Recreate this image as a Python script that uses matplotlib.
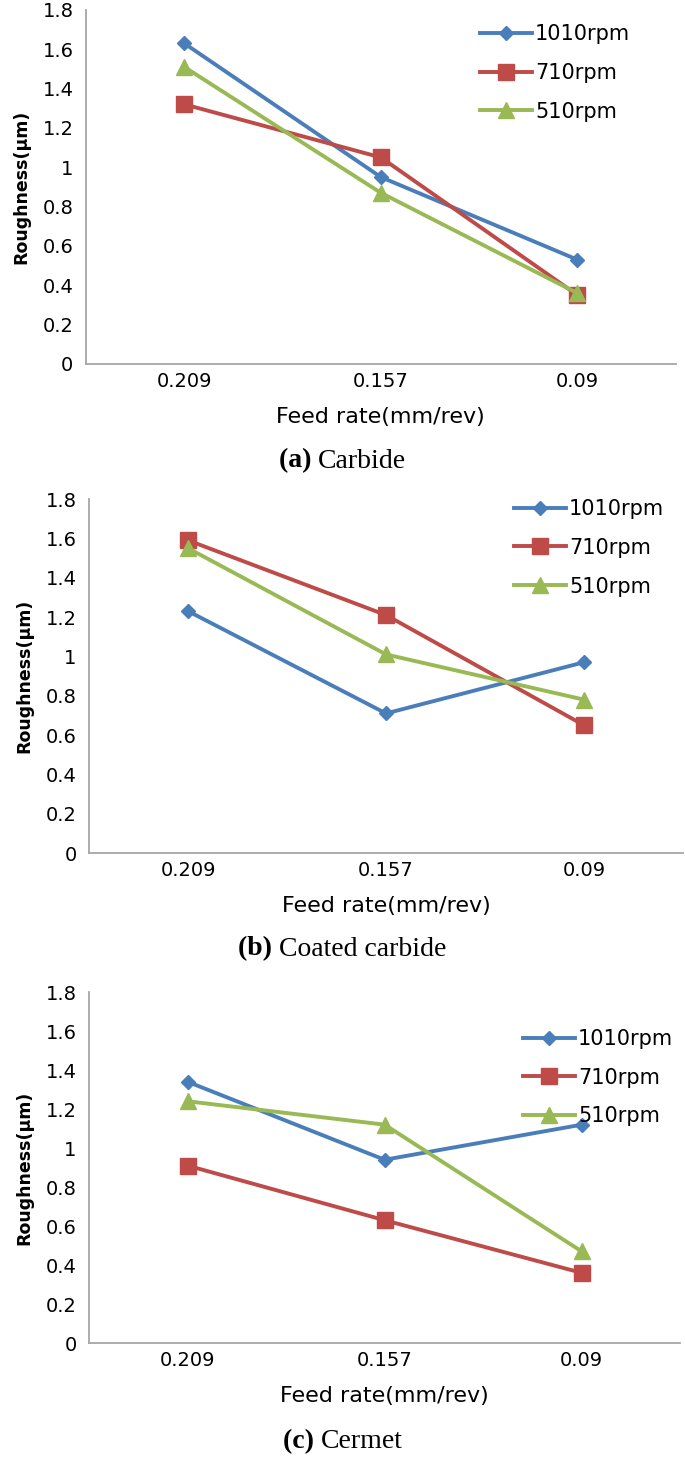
import numpy as np
import matplotlib.pyplot as plt

# feed rates (categories) and roughness values per tool / speed
feed = ['0.209', '0.157', '0.09']
speeds = ['1010rpm', '710rpm', '510rpm']

carbide_1010 = [1.63, 0.95, 0.53]
carbide_710 = [1.32, 1.05, 0.35]
carbide_510 = [1.51, 0.87, 0.36]

coated_1010 = [1.23, 0.71, 0.97]
coated_710 = [1.59, 1.21, 0.65]
coated_510 = [1.55, 1.01, 0.78]

cermet_1010 = [1.34, 0.94, 1.12]
cermet_710 = [0.91, 0.63, 0.36]
cermet_510 = [1.24, 1.12, 0.47]

colors = ['#4A7EBB', '#BE4B48', '#98B954']
markers = ['D', 's', '^']
msizes = [7.5, 11, 12]

plt.rcParams['font.family'] = ['DejaVu Sans']

fig = plt.figure(figsize=(6.85, 14.57), dpi=100)

# axes rect, series, caption tag, caption text, caption y (px), legend anchor
panels = [
    ([0.1255, 0.7502, 0.861, 0.243], [carbide_1010, carbide_710, carbide_510],
     '(a)', 'Carbide', 461, (0.668, 0.96)),
    ([0.130, 0.4145, 0.867, 0.243], [coated_1010, coated_710, coated_510],
     '(b)', 'Coated carbide', 949, (0.715, 1.0)),
    ([0.130, 0.0782, 0.863, 0.2409], [cermet_1010, cermet_710, cermet_510],
     '(c)', 'Cermet', 1442, (0.734, 0.895)),
]

x = np.arange(len(feed))
fig.canvas.draw()
r = fig.canvas.get_renderer()
for rect, series, tag, name, cap_y, leg_pos in panels:
    ax = fig.add_axes(rect)
    for vals, lab, c, m, ms in zip(series, speeds, colors, markers, msizes):
        ax.plot(x, vals, color=c, marker=m, markersize=ms, linewidth=2.8, label=lab)
    ax.set_xlim(-0.5, 2.5)
    ax.set_ylim(0, 1.8)
    ax.set_yticks(np.arange(0, 1.81, 0.2))
    ax.set_yticklabels(['0', '0.2', '0.4', '0.6', '0.8', '1', '1.2', '1.4', '1.6', '1.8'])
    ax.set_xticks(x)
    ax.set_xticklabels(feed)
    ax.tick_params(length=0, labelsize=14)
    ax.tick_params(axis='y', pad=9)
    ax.tick_params(axis='x', pad=6)
    for s in ['top', 'right']:
        ax.spines[s].set_visible(False)
    for s in ['left', 'bottom']:
        ax.spines[s].set_color('#a6a6a6')
        ax.spines[s].set_linewidth(1.3)
    ax.set_ylabel('Roughness(µm)', fontsize=12.5, fontweight='bold', labelpad=9)
    ax.set_xlabel('Feed rate(mm/rev)', fontsize=16, labelpad=11)
    ax.legend(loc='upper left', bbox_to_anchor=leg_pos, frameon=False, fontsize=15,
              handlelength=2.5, handletextpad=0.15, labelspacing=0.9,
              borderaxespad=0, borderpad=0)

    # caption: bold tag + regular name, centred as a pair
    yy = 1 - cap_y / 1457
    t1 = fig.text(0.5, yy, tag + ' ', ha='right', va='center', fontsize=20,
                  fontweight='bold', family='Liberation Serif')
    t2 = fig.text(0.5, yy, name, ha='left', va='center', fontsize=20,
                  family='Liberation Serif')
    w1 = t1.get_window_extent(r).width / fig.bbox.width
    w2 = t2.get_window_extent(r).width / fig.bbox.width
    off = (w1 - w2) / 2
    t1.set_x(0.5 + off)
    t2.set_x(0.5 + off)

fig.savefig('out.png', dpi=100)
